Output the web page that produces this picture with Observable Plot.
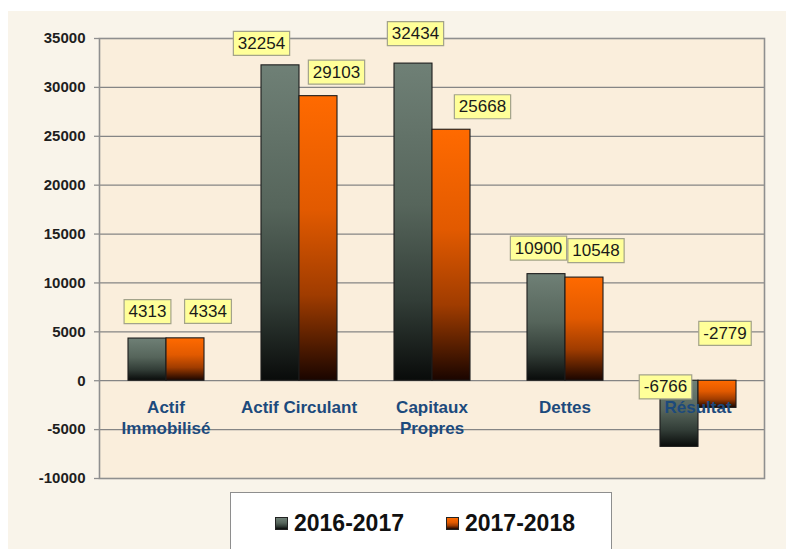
<!DOCTYPE html>
<html><head><meta charset="utf-8">
<script src="https://cdn.jsdelivr.net/npm/d3@7"></script>
<script src="https://cdn.jsdelivr.net/npm/@observablehq/plot@0.6"></script>
<style>
html,body{margin:0;padding:0;background:#fff;}
#wrap{position:absolute;left:8px;top:11px;width:778px;height:538px;background:#f9f4ea;overflow:hidden;font-family:"Liberation Sans",Arial,sans-serif;}
#chart{position:absolute;left:0;top:0;}
#legend{position:absolute;left:222px;top:481px;width:380px;height:80px;background:#fff;border:1px solid #8e8e8e;}
.item{position:absolute;top:15px;height:30px;display:flex;align-items:center;font-weight:bold;font-size:23px;color:#111;}
.sw{width:11px;height:11px;border:1px solid #222;margin-right:6px;}
</style></head>
<body>
<div id="wrap"><div id="chart"></div><div id="legend"></div></div>
<script>
const categories = ["Actif Immobilisé", "Actif Circulant", "Capitaux Propres", "Dettes", "Résultat"];
const categoryLabels = ["Actif\nImmobilisé", "Actif Circulant", "Capitaux\nPropres", "Dettes", "Résultat"];
const series = ["2016-2017", "2017-2018"];
const values2016 = [4313, 32254, 32434, 10900, -6766];
const values2017 = [4334, 29103, 25668, 10548, -2779];
const yTicks = [-10000, -5000, 0, 5000, 10000, 15000, 20000, 25000, 30000, 35000];
// label nudges [dx, dy] in px, by category then series (layout only)
const labelNudges = [[0,-27],[22.5,-27],[-19,-22],[18,-24],[2,-30],[31,-23],[-8,-26],[11.5,-27],[-14,-60],[7.5,-74.5]];

const seriesValues = [values2016, values2017];
const gradStops = [
  [[0,"#6f8076"],[0.45,"#56655b"],[0.75,"#323d37"],[1,"#090b0a"]],
  [[0,"#ff6a00"],[0.4,"#e25a00"],[0.7,"#a03c00"],[1,"#1a0500"]]
];
const rows = [];
categories.forEach((c, i) => series.forEach((s, j) => rows.push({cat: c, series: s, value: seriesValues[j][i], k: j})));
const catRows = categories.map((c, i) => ({cat: c, label: categoryLabels[i]}));

function defs() {
  const ns = "http://www.w3.org/2000/svg";
  const d = document.createElementNS(ns, "defs");
  gradStops.forEach((stops, j) => {
    const g = document.createElementNS(ns, "linearGradient");
    g.setAttribute("id", "grad" + j);
    g.setAttribute("x1", "0"); g.setAttribute("y1", "0"); g.setAttribute("x2", "0"); g.setAttribute("y2", "1");
    stops.forEach(([o, c]) => {
      const st = document.createElementNS(ns, "stop");
      st.setAttribute("offset", o); st.setAttribute("stop-color", c);
      g.appendChild(st);
    });
    d.appendChild(g);
  });
  return d;
}

const font = '"Liberation Sans", Arial, sans-serif';
const labelFontSize = 17;
const measureCtx = document.createElement("canvas").getContext("2d");
measureCtx.font = `${labelFontSize}px ${font}`;
// rectangle symbol sized to the label text
const boxSymbol = text => {
  const w = measureCtx.measureText(text).width + 9;
  const h = 24;
  return {draw(ctx) { ctx.rect(-w / 2, -h / 2, w, h); }};
};

const plot = Plot.plot({
  width: 778,
  height: 481,
  marginLeft: 91,
  marginRight: 22,
  marginTop: 27,
  marginBottom: 14,
  style: {fontFamily: font, background: "transparent", overflow: "visible"},
  fx: {domain: categories, padding: 0, axis: null},
  x: {domain: series, paddingInner: 0, paddingOuter: 0.75, axis: null},
  y: {domain: [-10000, 35000], axis: null},
  marks: [
    defs,
    Plot.frame({facet: "super", fill: "#faeedc", stroke: null}),
    Plot.gridY(yTicks, {stroke: "#858585", strokeOpacity: 1, strokeWidth: 1.2}),
    Plot.frame({facet: "super", stroke: "#8f8f8f", strokeWidth: 1.6, fill: null}),
    Plot.axisY(yTicks, {label: null, tickFormat: d => String(d), tickSize: 5, tickPadding: 9, fontSize: 15, fontWeight: "bold", fill: "#1e1e1e", stroke: "#8f8f8f", strokeWidth: 1.3}),
    ...series.map((s, j) => Plot.barY(rows.filter(d => d.k === j), {
      fx: "cat", x: "series", y: "value",
      fill: `url(#grad${j})`, stroke: "#1c1c1c", strokeWidth: 1.1
    })),
    Plot.text(catRows, {fx: "cat", y: () => 0, text: "label", dy: 17, lineAnchor: "top", lineHeight: 1.235,
      fontSize: 17, fontWeight: "bold", fill: "#1c4a7c"}),
    ...rows.flatMap((d, i) => [
      Plot.dot([d], {
        fx: "cat", x: "series", y: "value",
        dx: labelNudges[i][0], dy: labelNudges[i][1],
        symbol: boxSymbol(String(d.value)), r: 10,
        fill: "#ffff99", stroke: "#a3a38a", strokeWidth: 1.2
      }),
      Plot.text([d], {
        fx: "cat", x: "series", y: "value", text: r => String(r.value),
        dx: labelNudges[i][0], dy: labelNudges[i][1],
        fontSize: labelFontSize, fill: "#1a1a1a"
      })
    ])
  ]
});
document.getElementById("chart").append(plot);

// legend
const legend = document.getElementById("legend");
const lefts = [44, 215];
series.forEach((s, j) => {
  const it = document.createElement("div");
  it.className = "item";
  it.style.left = lefts[j] + "px";
  const sw = document.createElement("span");
  sw.className = "sw";
  sw.style.background = `linear-gradient(${gradStops[j].map(([o, c]) => c + " " + (o * 100) + "%").join(",")})`;
  it.append(sw, document.createTextNode(s));
  legend.append(it);
});
</script>
</body></html>
